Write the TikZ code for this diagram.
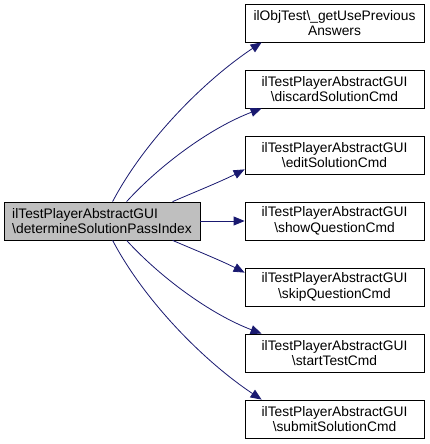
\documentclass[tikz,border=0pt]{standalone}
\usepackage{fontspec}
\setmainfont{Liberation Sans}
\usepackage{tikz}
\usetikzlibrary{arrows.meta,calc}

\definecolor{edgeblue}{RGB}{25,25,112}
\definecolor{curgray}{RGB}{191,191,191}

\tikzset{
  fnbox/.style={shape=rectangle,draw=black,line width=0.8pt,fill=white,
    minimum width=179pt,minimum height=38pt,inner sep=0pt,align=center,
    font=\fontsize{13.8}{15.5}\selectfont},
  curbox/.style={fnbox,fill=curgray,minimum width=196pt,align=left},
  call/.style={draw=edgeblue,line width=0.8pt,-{Triangle[length=11pt,width=9pt]}}
}

\begin{document}
\begin{tikzpicture}[x=1pt,y=-1pt]
\useasboundingbox (0,0) rectangle (429,444);

\node[curbox] (src) at (102,221) {ilTestPlayerAbstractGUI\\\textbackslash determineSolutionPassIndex};

\node[fnbox] (prev) at (334.5,23) {ilObjTest\textbackslash\_getUsePrevious\\Answers};
\node[fnbox] (discard) at (334.5,89) {ilTestPlayerAbstractGUI\\\textbackslash discardSolutionCmd};
\node[fnbox] (edit) at (334.5,155) {ilTestPlayerAbstractGUI\\\textbackslash editSolutionCmd};
\node[fnbox] (show) at (334.5,221) {ilTestPlayerAbstractGUI\\\textbackslash showQuestionCmd};
\node[fnbox] (skip) at (334.5,287) {ilTestPlayerAbstractGUI\\\textbackslash skipQuestionCmd};
\node[fnbox] (start) at (334.5,353) {ilTestPlayerAbstractGUI\\\textbackslash startTestCmd};
\node[fnbox] (submit) at (334.5,419) {ilTestPlayerAbstractGUI\\\textbackslash submitSolutionCmd};

\draw[call] ($(src.north west)+(109,0)$) .. controls (145,140) and (205,80) .. ($(prev.south west)+(17,0)$);
\draw[call] ($(src.north west)+(123,0)$) .. controls (160,165) and (210,128) .. ($(discard.south west)+(17,0)$);
\draw[call] ($(src.north west)+(169,0)$) .. controls (195,192) and (222,181) .. ($(edit.south west)+(0,-5)$);
\draw[call] (src.east) -- (show.west);
\draw[call] ($(src.south west)+(169,0)$) .. controls (195,250) and (222,261) .. ($(skip.north west)+(0,5)$);
\draw[call] ($(src.south west)+(123,0)$) .. controls (160,277) and (210,314) .. ($(start.north west)+(17,0)$);
\draw[call] ($(src.south west)+(109,0)$) .. controls (145,302) and (205,362) .. ($(submit.north west)+(17,0)$);

\end{tikzpicture}
\end{document}
